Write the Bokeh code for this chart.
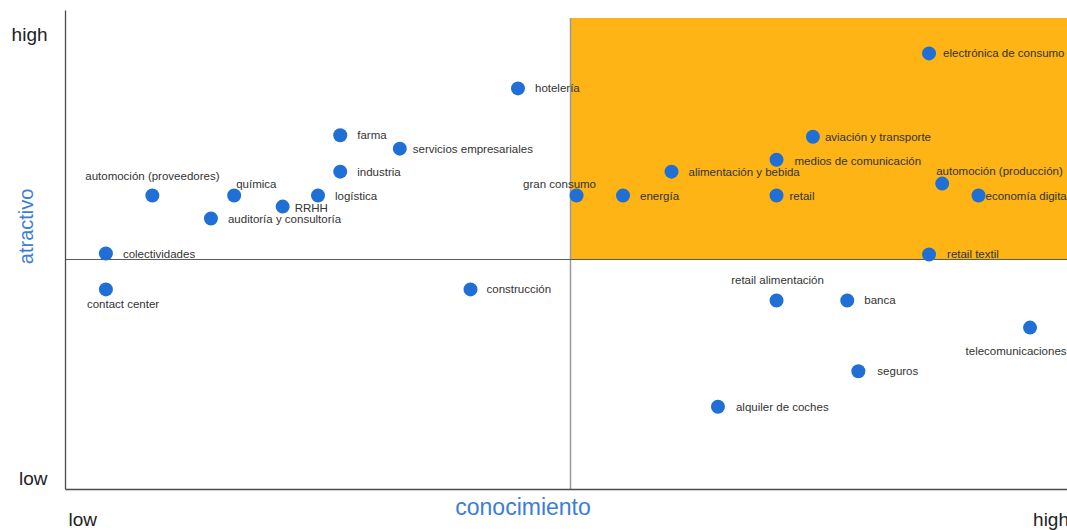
import math
from bokeh.plotting import figure
from bokeh.models import Range1d, ColumnDataSource
from bokeh.core.properties import value
from bokeh.embed import file_html
from bokeh.resources import INLINE

# ---- data (conocimiento = x, atractivo = y) ----
sectors = [
    "electrónica de consumo", "hotelería", "farma", "servicios empresariales",
    "aviación y transporte", "medios de comunicación", "industria",
    "alimentación y bebida", "automoción (producción)", "economía digital",
    "retail", "energía", "gran consumo", "automoción (proveedores)", "química",
    "logística", "RRHH", "auditoría y consultoría", "colectividades",
    "retail textil", "contact center", "construcción", "retail alimentación",
    "banca", "telecomunicaciones", "seguros", "alquiler de coches",
]
conocimiento = [
    85.5, 44.8, 27.2, 33.1,
    74.0, 70.4, 27.2,
    60.0, 86.8, 90.4,
    70.4, 55.2, 50.6, 8.6, 16.7,
    25.0, 21.5, 14.4, 4.0,
    85.5, 4.0, 40.1, 70.4,
    77.4, 95.5, 78.5, 64.6,
]
atractivo = [
    94.8, 87.2, 77.0, 74.1,
    76.7, 71.7, 69.1,
    69.1, 66.5, 63.9,
    63.9, 63.9, 63.9, 63.9, 63.9,
    63.9, 61.5, 58.9, 51.3,
    51.1, 43.5, 43.5, 41.1,
    41.1, 35.2, 25.7, 18.0,
]
tick_labels = ["low", "high"]
x_title = "conocimiento"
y_title = "atractivo"
midpoint = 50

# ---- label placement (style): x offset px, y offset px, align ----
place = {
    "electrónica de consumo": (14, 0, "left"),
    "hotelería": (17, 0, "left"),
    "farma": (17, 0, "left"),
    "servicios empresariales": (13, 0, "left"),
    "aviación y transporte": (12, 0, "left"),
    "medios de comunicación": (18, 1, "left"),
    "industria": (17, 0, "left"),
    "alimentación y bebida": (17, 0, "left"),
    "automoción (producción)": (-6, -13, "left"),
    "economía digital": (7, 0, "left"),
    "retail": (13, 0, "left"),
    "energía": (17, 0, "left"),
    "gran consumo": (-17, -12, "center"),
    "automoción (proveedores)": (0, -20, "center"),
    "química": (2, -12, "left"),
    "logística": (17, 0, "left"),
    "RRHH": (12, 1, "left"),
    "auditoría y consultoría": (17, 0, "left"),
    "colectividades": (17, 0, "left"),
    "retail textil": (18, 0, "left"),
    "contact center": (-19, 15, "left"),
    "construcción": (16, 0, "left"),
    "retail alimentación": (1, -20, "center"),
    "banca": (17, 0, "left"),
    "telecomunicaciones": (-14, 23, "center"),
    "seguros": (19, 0, "left"),
    "alquiler de coches": (18, 0, "left"),
}

# plot area: x 0..99.2, y 0..104.1 ; extra room around for axis texts
X0, X1 = -6.436, 99.208
Y0, Y1 = -8.913, 106.304
X_END = 99.208
Y_TOP = 104.13

p = figure(width=1067, height=530, output_backend="svg", toolbar_location=None,
           x_range=Range1d(X0, X1), y_range=Range1d(Y0, Y1),
           min_border=0, background_fill_color="white",
           border_fill_color="white")
p.outline_line_color = None
p.grid.visible = False
p.axis.visible = False

# quadrant highlight
p.quad(left=[midpoint], right=[X_END + 10], bottom=[midpoint], top=[102.5],
       fill_color="#FDB414", line_color=None)
# midlines
p.segment(x0=[midpoint], y0=[0], x1=[midpoint], y1=[102.5],
          line_color="#9a9a9a", line_width=1.5)
p.segment(x0=[0], y0=[midpoint], x1=[X_END + 10], y1=[midpoint],
          line_color="#5a5a5a", line_width=1)
# axis lines
p.segment(x0=[0, 0], y0=[0, 0], x1=[0, X_END + 10], y1=[Y_TOP, 0],
          line_color="#4a4a4a", line_width=1.3)

src = ColumnDataSource(dict(
    x=conocimiento, y=atractivo, name=sectors,
    dx=[place[s][0] for s in sectors],
    dy=[place[s][1] for s in sectors],
    align=[place[s][2] for s in sectors],
))
p.scatter("x", "y", source=src, size=14, fill_color="#1F6FD6", line_color=None)
p.text("x", "y", text="name", source=src, x_offset="dx", y_offset="dy",
       text_align="align", text_baseline="middle", text_font_size="11.5px",
       text_color="#333333", text_font=value("Liberation Sans"))

# axis end labels
p.text(x=[-1.78, -1.78], y=[2.4, 98.9], text=tick_labels,
       text_align="right", text_baseline="middle", text_font_size="19px",
       text_color="#222222", text_font=value("Liberation Sans"))
p.text(x=[0.3, 95.8], y=[-6.52, -6.52], text=tick_labels,
       text_align="left", text_baseline="middle", text_font_size="19px",
       text_color="#222222", text_font=value("Liberation Sans"))
# axis titles
p.text(x=[-3.96], y=[57.2], text=[y_title], angle=math.pi / 2,
       text_align="center", text_baseline="middle", text_font_size="20px",
       text_color="#3B7DD8", text_font=value("Liberation Sans"))
p.text(x=[45.3], y=[-3.9], text=[x_title],
       text_align="center", text_baseline="middle", text_font_size="23px",
       text_color="#3B7DD8", text_font=value("Liberation Sans"))

open("out.html", "w").write(file_html(p, INLINE))
